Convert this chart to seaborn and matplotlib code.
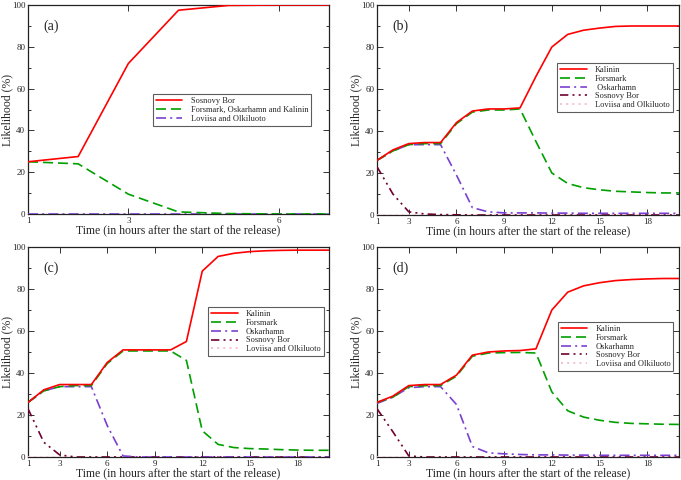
import numpy as np
import pandas as pd
import matplotlib
matplotlib.use("Agg")
import matplotlib.pyplot as plt
from matplotlib.ticker import MultipleLocator
import seaborn as sns

# hours after release
hours_a = [1, 2, 3, 4, 5, 6, 7]
hours = list(range(1, 21))

# panel (a)
a_sosnovy = [25, 27.5, 72, 97.5, 99.8, 100, 100]
a_forsmark_group = [25, 24, 9.5, 1, 0.2, 0, 0]
a_loviisa_group = [0, 0, 0, 0, 0, 0, 0]

# panel (b)
b_kalinin = [26, 31, 34, 34.5, 34.5, 44, 49.5, 50.5, 50.5, 51, 66, 80, 86, 88, 89, 89.8, 90, 90, 90, 90]
b_forsmark = [26, 30.5, 33.5, 34, 34, 43.5, 49, 50, 50, 50.5, 35, 20, 15, 13, 12, 11.3, 11, 10.7, 10.5, 10.5]
b_oskarhamn = [26, 30.5, 33.5, 33.5, 33.5, 19, 3.5, 1.5, 1, 1, 1, 0.9, 0.9, 0.8, 0.8, 0.8, 0.8, 0.8, 0.8, 0.8]
b_sosnovy = [23, 10, 1.5, 0.5, 0.2, 0.1, 0, 0, 0, 0, 0, 0, 0, 0, 0, 0, 0, 0, 0, 0]
b_loviisa = [0] * 20

# panel (c)
c_kalinin = [26, 32, 34.5, 34.5, 34.5, 45, 51, 51, 51, 51, 55, 88.5, 95.5, 97, 97.8, 98.2, 98.4, 98.5, 98.5, 98.5]
c_forsmark = [26, 31.5, 33.5, 34, 34, 44.5, 50.5, 50.5, 50.5, 50.5, 46, 12.5, 6, 4.5, 4, 3.8, 3.5, 3.3, 3.2, 3.2]
c_oskarhamn = [26, 31.5, 33.5, 33.5, 33.5, 15, 0.5, 0, 0, 0, 0, 0, 0, 0, 0, 0, 0, 0, 0, 0]
c_sosnovy = [23, 7, 1, 0, 0, 0, 0, 0, 0, 0, 0, 0, 0, 0, 0, 0, 0, 0, 0, 0]
c_loviisa = [0] * 20

# panel (d)
d_kalinin = [26, 29, 34, 34.5, 34.5, 39, 48.5, 50, 50.5, 50.7, 51.5, 70, 78.5, 81.5, 83, 84, 84.5, 84.8, 85, 85]
d_forsmark = [26, 28.5, 33.5, 34, 34, 38.5, 48, 49.5, 49.7, 49.8, 49.5, 31, 22, 19, 17.5, 16.5, 16, 15.8, 15.6, 15.5]
d_oskarhamn = [25.5, 28.5, 33, 33.5, 33.5, 25, 5, 2, 1.5, 1.2, 1, 1, 0.9, 0.9, 0.8, 0.8, 0.8, 0.8, 0.8, 0.8]
d_sosnovy = [23, 12, 0.5, 0, 0, 0, 0, 0, 0, 0, 0, 0, 0, 0, 0, 0, 0, 0, 0, 0]
d_loviisa = [0] * 20

names_b = ["Kalinin", "Forsmark", " Oskarhamn", "Sosnovy Bor", "Loviisa and Olkiluoto"]
names_cd = ["Kalinin", "Forsmark", "Oskarhamn", "Sosnovy Bor", "Loviisa and Olkiluoto"]
names_a = ["Sosnovy Bor", "Forsmark, Oskarhamn and Kalinin", "Loviisa and Olkiluoto"]

RED = "#ff0000"
GREEN = "#00a000"
PURPLE = "#7b3fd0"
MAROON = "#700030"
PINK = "#f2b8c8"

styles_bcd = [
    (RED, "-"),
    (GREEN, (0, (6, 3))),
    (PURPLE, (0, (6, 2.5, 1.2, 2.5))),
    (MAROON, (0, (5, 2.5, 1.2, 2.5, 1.2, 2.5))),
    (PINK, (0, (1.2, 2.5))),
]
styles_a = [
    (RED, "-"),
    (GREEN, (0, (6, 3))),
    (PURPLE, (0, (6, 2.5, 1.2, 2.5))),
]

sns.set_style("ticks")
plt.rcParams["font.family"] = ["Liberation Serif", "DejaVu Serif"]

fig = plt.figure(figsize=(6.81, 4.80), dpi=100)

W, H = 681.0, 480.0
def box(l, r, t, b):
    return [l / W, (H - b) / H, (r - l) / W, (b - t) / H]

ax_a = fig.add_axes(box(28, 329, 5, 214))
ax_b = fig.add_axes(box(377, 679, 5, 215))
ax_c = fig.add_axes(box(28, 329, 247, 457))
ax_d = fig.add_axes(box(377, 679, 247, 457))

panels = [
    (ax_a, "(a)", hours_a, [a_sosnovy, a_forsmark_group, a_loviisa_group], names_a, styles_a,
     (1, 7), [1, 3, 6], (0.415, 0.574)),
    (ax_b, "(b)", hours, [b_kalinin, b_forsmark, b_oskarhamn, b_sosnovy, b_loviisa], names_b, styles_bcd,
     (1, 20), [1, 3, 6, 9, 12, 15, 18], (0.596, 0.724)),
    (ax_c, "(c)", hours, [c_kalinin, c_forsmark, c_oskarhamn, c_sosnovy, c_loviisa], names_cd, styles_bcd,
     (1, 20), [1, 3, 6, 9, 12, 15, 18], (0.598, 0.714)),
    (ax_d, "(d)", hours, [d_kalinin, d_forsmark, d_oskarhamn, d_sosnovy, d_loviisa], names_cd, styles_bcd,
     (1, 20), [1, 3, 6, 9, 12, 15, 18], (0.599, 0.643)),
]

for ax, tag, x, series, names, styles, xlim, xticks, leg_pos in panels:
    # draw the faint ones first so the main curves sit on top
    order = list(range(len(series)))[::-1]
    for i in order:
        color, ls = styles[i]
        df = pd.DataFrame({"hour": x, "value": series[i]})
        sns.lineplot(data=df, x="hour", y="value", ax=ax, color=color,
                     linestyle=ls, linewidth=1.2, label=names[i], zorder=3 + len(series) - i)
    ax.set_xlim(*xlim)
    ax.set_ylim(0, 100)
    ax.set_xticks(xticks)
    ax.set_yticks([0, 20, 40, 60, 80, 100])
    ax.yaxis.set_minor_locator(MultipleLocator(10))
    ax.tick_params(which="both", direction="in", top=True, right=True,
                   labelsize=6.5, pad=2, width=0.7, color="#333333")
    ax.tick_params(which="major", length=4)
    ax.tick_params(which="minor", length=2)
    ax.set_xlabel("Time (in hours after the start of the release)", fontsize=8.5, labelpad=0)
    ax.set_ylabel("Likelihood (%)", fontsize=8.5)
    pw = ax.get_position().width * W
    ax.yaxis.set_label_coords(-14.5 / pw, 0.5)
    for sp in ax.spines.values():
        sp.set_linewidth(0.9)
        sp.set_color("#222222")
    ax.text(0.05, 0.93, tag, transform=ax.transAxes, fontsize=10, va="top", ha="left")

    handles, labels = ax.get_legend_handles_labels()
    handles, labels = handles[::-1], labels[::-1]
    leg = ax.legend(handles, labels, loc="upper left", bbox_to_anchor=leg_pos,
                    borderaxespad=0, fontsize=6, frameon=True, fancybox=False,
                    handlelength=3.2, labelspacing=0.1, borderpad=0.35,
                    handletextpad=1.0)
    leg.get_frame().set_edgecolor("#333333")
    leg.get_frame().set_linewidth(0.8)

fig.savefig("out.png", dpi=100)
